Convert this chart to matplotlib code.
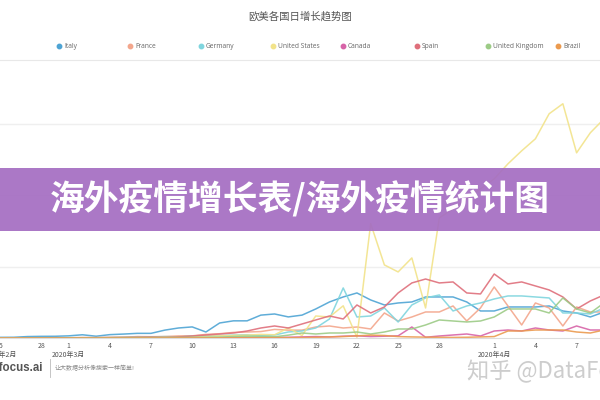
import matplotlib
matplotlib.use("Agg")
import matplotlib.pyplot as plt
from matplotlib.patches import Rectangle
from matplotlib.lines import Line2D

plt.rcParams['font.family'] = ['Noto Sans CJK SC', 'DejaVu Sans']

# days from 2020-02-25 to 2020-04-09
day_labels = [25, 26, 27, 28, 29] + list(range(1, 32)) + list(range(1, 10))
tick_idx = [0, 3, 5, 8, 11, 14, 17, 20, 23, 26, 29, 32, 36, 39, 42]
month_idx = [0, 5, 36]
month_labels = ["2020年2月", "2020年3月", "2020年4月"]

countries = ["Italy", "France", "Germany", "United States", "Canada",
             "Spain", "United Kingdom", "Brazil"]
colors = ["#4ea4d4", "#f3a68c", "#7fd5de", "#f2e38a", "#d764a8",
          "#df6f7b", "#9ccb86", "#eb9a4f"]

italy = [90, 100, 200, 230, 240,
         300, 450, 250, 470, 550, 650, 650, 1100, 1400, 1550, 840, 2100, 2400,
         2400, 3200, 3360, 2950, 3200, 4060, 5040, 5740, 6300, 5320, 4620, 4900,
         5040, 5740, 5740, 5740, 5040, 3780,
         3780, 4340, 4340, 4340, 4480, 3780, 3500, 2940, 3640]
france = [0, 2, 20, 20, 40,
          30, 60, 30, 80, 90, 200, 180, 200, 290, 300, 500, 600, 780,
          840, 900, 1200, 1100, 1100, 1540, 1680, 1400, 1540, 1260, 3500, 2380,
          2940, 3640, 3640, 4480, 2380, 4200,
          7140, 4480, 1820, 4900, 4200, 1680, 4340, 3640, 3640]
germany = [0, 10, 20, 20, 30,
           50, 40, 50, 60, 100, 130, 150, 200, 150, 250, 300, 350, 400,
           450, 300, 420, 840, 980, 1400, 2660, 7000, 2940, 3080, 4200, 2240,
           4620, 5600, 6020, 3780, 4480, 4900,
           5460, 5880, 5880, 5740, 5600, 3500, 3500, 3360, 4200]
usa = [0, 5, 10, 5, 10,
       20, 30, 40, 50, 70, 80, 100, 120, 150, 200, 270, 300, 350,
       400, 500, 450, 1400, 350, 3080, 2940, 4500, 100, 16000, 10220, 9240,
       11200, 4200, 16800, 18060, 19460, 20860,
       22260, 24360, 26180, 27860, 31360, 32760, 25900, 28700, 30660]
canada = [0, 0, 1, 2, 3,
          3, 4, 5, 6, 8, 10, 12, 15, 20, 25, 30, 35, 40,
          50, 60, 80, 100, 150, 200, 150, 250, 300, 200, 250, 300,
          1540, 100, 280, 420, 560, 280,
          980, 1120, 980, 1400, 1120, 980, 1680, 1120, 1120]
spain = [0, 0, 2, 5, 20,
         30, 40, 50, 60, 80, 100, 130, 100, 150, 280, 420, 560, 700,
         980, 1400, 1680, 1400, 1960, 2520, 3080, 2660, 4620, 3500, 4340, 6300,
         7700, 8250, 7700, 7840, 6300, 6160,
         8950, 7560, 7840, 7280, 6720, 5740, 4060, 5180, 6020]
uk = [0, 2, 5, 5, 8,
      10, 15, 20, 30, 40, 50, 60, 70, 80, 90, 100, 130, 200,
      250, 230, 170, 400, 700, 560, 700, 700, 840, 560, 840, 1260,
      1260, 1820, 2520, 2380, 2240, 2380,
      2940, 4060, 4060, 4060, 3500, 5600, 4060, 3500, 4900]
brazil = [0, 0, 0, 0, 1,
          0, 1, 0, 1, 2, 3, 5, 8, 10, 12, 15, 20, 25,
          30, 30, 40, 50, 60, 100, 150, 200, 300, 400, 350, 200,
          150, 120, 100, 80, 100, 150,
          200, 980, 980, 1120, 1120, 1120, 840, 700, 1120]

series = [italy, france, germany, usa, canada, spain, uk, brazil]

fig = plt.figure(figsize=(6, 4), dpi=100)
fig.patch.set_facecolor("white")

# plot area: left 0, right 600, top y=60, bottom y=338 (pixels)
ax = fig.add_axes([0, 1 - 338 / 400, 1, (338 - 60) / 400])
px_per_day = 13.9
x_days = list(range(len(day_labels)))
for vals, c in zip(series, colors):
    ax.plot(x_days, vals, color=c, linewidth=1.1, alpha=0.9)

ax.set_xlim(5 - 62 / px_per_day, 5 + 538 / px_per_day)
ax.set_ylim(0, 10000 * (338 - 60) / 71.5)
ax.set_yticks([10000, 20000, 30000])
ax.yaxis.grid(True, color="#efefef", linewidth=1)
ax.set_axisbelow(True)
ax.tick_params(axis="y", left=False, labelleft=False)
ax.set_xticks(tick_idx)
ax.set_xticklabels([str(day_labels[i]) for i in tick_idx], fontsize=5, color="#555")
ax.tick_params(axis="x", length=0, pad=3)
for s in ["left", "right"]:
    ax.spines[s].set_visible(False)
ax.spines["top"].set_color("#e8e8e8")
ax.spines["bottom"].set_color("#dddddd")

for i, lab in zip(month_idx, month_labels):
    ax.annotate(lab, xy=(i, 0), xytext=(0, -9.5), textcoords="offset points",
                ha="center", va="top", fontsize=5, color="#555",
                annotation_clip=False)

# title and legend
fig.text(0.5, 1 - 16 / 400, "欧美各国日增长趋势图", ha="center", va="center",
         fontsize=7.5, color="#555")
leg_x = [59, 130, 201, 273, 343, 417, 488, 558]
for px, name, c in zip(leg_x, countries, colors):
    fig.add_artist(Line2D([px / 600], [1 - 46 / 400], marker="o", markersize=3.2,
                          color=c, transform=fig.transFigure, linestyle="none"))
    fig.text((px + 5) / 600, 1 - 46 / 400, name, ha="left", va="center",
             fontsize=4.8, color="#666", family=["Open Sans", "DejaVu Sans"])

# purple banner
fig.patches.append(Rectangle((0, 1 - 231 / 400), 1, 63 / 400, transform=fig.transFigure,
                             facecolor="#a56ec2", alpha=0.93, edgecolor="none", zorder=10))
fig.text(0.5, 1 - 199 / 400, "海外疫情增长表/海外疫情统计图", ha="center", va="center",
         fontsize=25, color="white", fontweight="bold", zorder=11)

# watermarks
fig.text(43 / 600, 1 - 368 / 400, "datafocus.ai", ha="right", va="center",
         fontsize=8.3, color="#555", fontweight="bold",
         family=["Liberation Sans", "DejaVu Sans"])
fig.add_artist(Line2D([50 / 600, 50 / 600], [1 - 359 / 400, 1 - 377 / 400],
                      color="#bbb", linewidth=0.6, transform=fig.transFigure))
fig.text(55 / 600, 1 - 368 / 400, "让大数据分析像搜索一样简单!", ha="left", va="center",
         fontsize=4.3, color="#888")
fig.text(467 / 600, 1 - 372 / 400, "知乎 @DataFocus", ha="left", va="center",
         fontsize=16, color="#cdcdcd")

fig.savefig("out.png", dpi=100)
